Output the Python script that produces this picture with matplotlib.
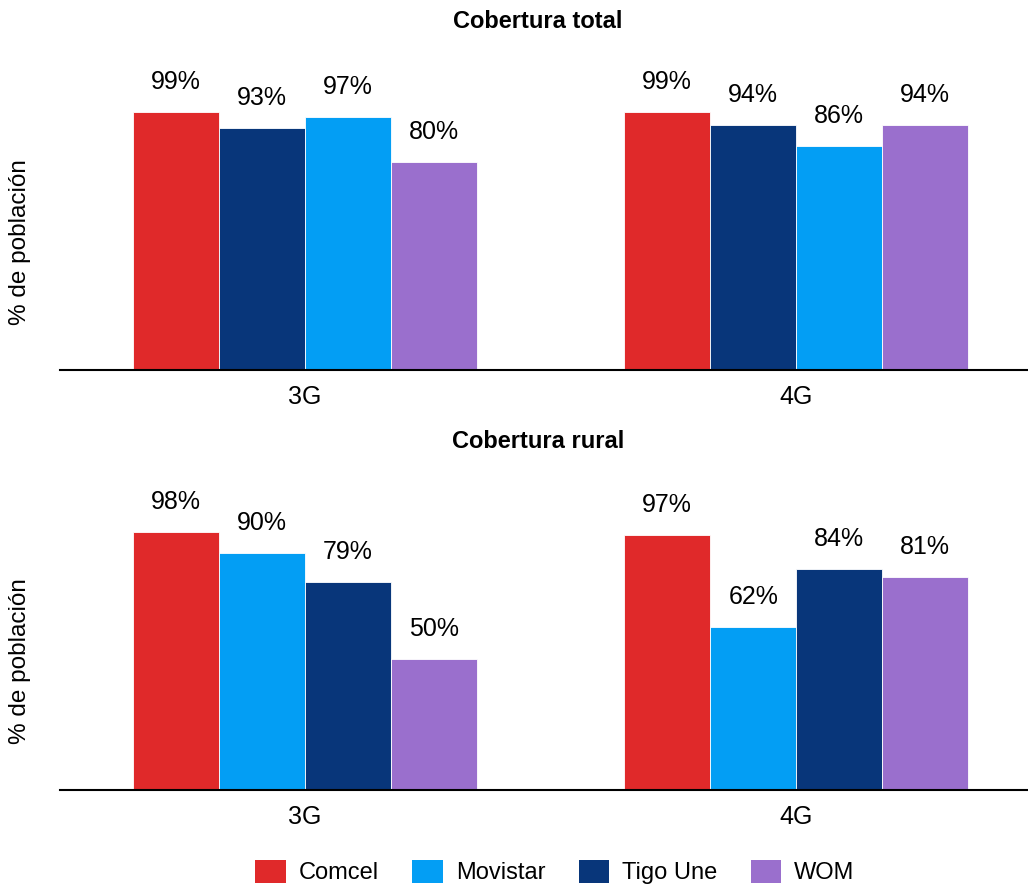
import matplotlib
matplotlib.use("Agg")
import matplotlib.pyplot as plt
from matplotlib.patches import Patch
import numpy as np

operators = ["Comcel", "Movistar", "Tigo Une", "WOM"]
op_colors = {"Comcel": "#E0292A", "Movistar": "#039EF4", "Tigo Une": "#08367A", "WOM": "#9A6FCD"}

groups = ["3G", "4G"]

total_order = [["Comcel", "Tigo Une", "Movistar", "WOM"],
               ["Comcel", "Tigo Une", "Movistar", "WOM"]]
total_values = [[99, 93, 97, 80],
                [99, 94, 86, 94]]

rural_order = [["Comcel", "Movistar", "Tigo Une", "WOM"],
               ["Comcel", "Movistar", "Tigo Une", "WOM"]]
rural_values = [[98, 90, 79, 50],
                [97, 62, 84, 81]]

titles = ["Cobertura total", "Cobertura rural"]

regular = ["Liberation Sans", "DejaVu Sans"]

W, H = 1028, 889
fig = plt.figure(figsize=(W / 100, H / 100), dpi=100)

def box(l, t, r, b):
    return [l / W, 1 - b / H, (r - l) / W, (b - t) / H]

ax1 = fig.add_axes(box(60, 60, 1028, 370))
ax2 = fig.add_axes(box(60, 480, 1028, 790))

bw = 0.175
for ax, orders, vals, title, ymax in [(ax1, total_order, total_values, titles[0], 310 / 2.606),
                                      (ax2, rural_order, rural_values, titles[1], 310 / 2.63)]:
    x = np.arange(len(groups))
    for gi in range(len(groups)):
        for j, (op, v) in enumerate(zip(orders[gi], vals[gi])):
            xpos = x[gi] + (j - 1.5) * bw
            ax.bar(xpos, v, width=bw, color=op_colors[op], edgecolor="white", linewidth=0.6)
            ax.annotate(f"{v}%", (xpos, v), xytext=(0, 21.5), textcoords="offset points",
                        ha="center", va="center", fontsize=18, family=regular)
    ax.set_xlim(-0.499, 1.472)
    ax.set_ylim(0, ymax)
    ax.set_xticks(x)
    ax.set_xticklabels(groups, fontsize=18, family=regular)
    ax.tick_params(axis="x", length=0, pad=11)
    ax.set_yticks([])
    for s in ["top", "right", "left"]:
        ax.spines[s].set_visible(False)
    ax.spines["bottom"].set_linewidth(1.5)
    ax.spines["bottom"].set_color("black")

fig.text(538 / W, 1 - 22 / H, titles[0], ha="center", va="center", fontsize=17,
         fontweight="bold", family=regular)
fig.text(538 / W, 1 - 442 / H, titles[1], ha="center", va="center", fontsize=17,
         fontweight="bold", family=regular)

fig.text(20 / W, 1 - 242 / H, "% de población", rotation=90, ha="center", va="center",
         fontsize=17.5, family=regular)
fig.text(20 / W, 1 - 661 / H, "% de población", rotation=90, ha="center", va="center",
         fontsize=17.5, family=regular)

handles = [Patch(facecolor=op_colors[o], edgecolor="none") for o in operators]
fig.legend(handles, operators, loc="center", bbox_to_anchor=(555 / W, 1 - 872 / H), ncol=4,
           frameon=False, prop={"family": regular, "size": 17},
           handlelength=1.3, handleheight=1.15, handletextpad=0.55, columnspacing=1.4)

fig.savefig("out.png", dpi=100)
